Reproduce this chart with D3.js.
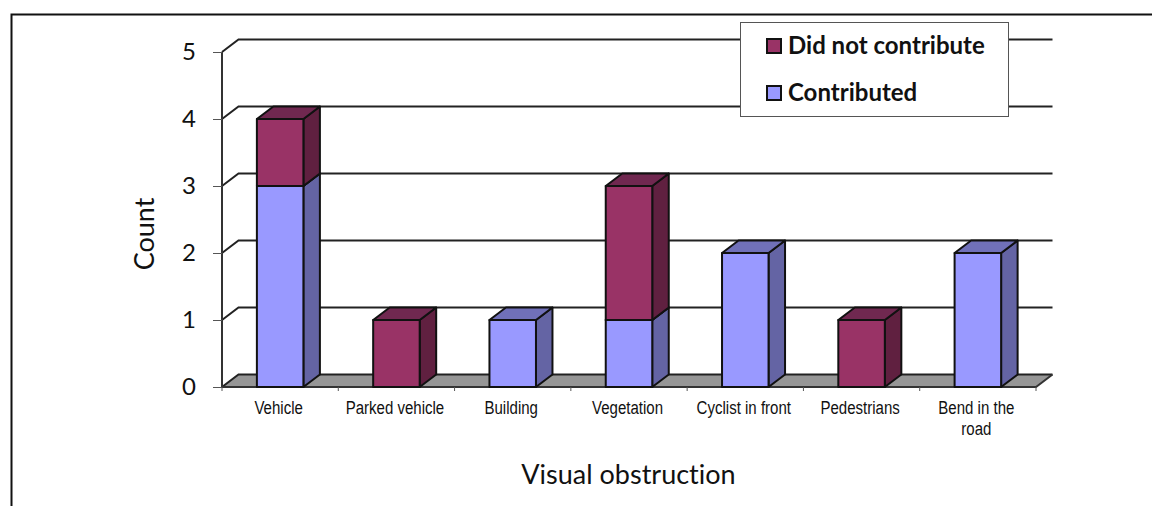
<!DOCTYPE html>
<html>
<head>
<meta charset="utf-8">
<script src="https://cdn.jsdelivr.net/npm/d3@7"></script>
<style>
  html, body { margin: 0; background: #fff; }
  svg { display: block; }
  text { fill: #111; font-variant-ligatures: none; }
</style>
</head>
<body>
<svg id="chart" width="1152" height="506"></svg>
<script>
const categories = ["Vehicle", "Parked vehicle", "Building", "Vegetation", "Cyclist in front", "Pedestrians", "Bend in the road"];
const contributed = [3, 0, 1, 1, 2, 0, 2];
const didNotContribute = [1, 1, 0, 2, 0, 1, 0];
const yTicks = [0, 1, 2, 3, 4, 5];
const seriesNames = ["Did not contribute", "Contributed"];

const svg = d3.select("#chart");
const titleFont = "Lato, 'Open Sans', sans-serif";
const labelFont = "'Liberation Sans', Arial, sans-serif";

const plotLeft = 222, plotRight = 1036, plotBottom = 387, plotTop = 52;
// depth of the fake 3d box
const dx = 16.5, dy = -12.5;

const x = d3.scaleBand().domain(categories).range([plotLeft, plotRight]).paddingInner(0.6).paddingOuter(0.3);
const band = d3.scaleBand().domain(categories).range([plotLeft, plotRight]);
const y = d3.scaleLinear().domain([0, 5]).range([plotBottom, plotTop]);

const colors = {
  blue: { front: "#9999ff", side: "#6464a4", top: "#7070b8" },
  wine: { front: "#993366", side: "#602040", top: "#702850" }
};

// frame around the figure
svg.append("path")
  .attr("d", `M11.5 506 V14.5 H1152`)
  .attr("fill", "none")
  .attr("stroke", "#111")
  .attr("stroke-width", 2);

// floor
svg.append("path")
  .attr("d", `M${plotLeft} ${plotBottom} L${plotLeft + dx} ${plotBottom + dy} H${plotRight + dx} L${plotRight} ${plotBottom} Z`)
  .attr("fill", "#969696")
  .attr("stroke", "none");

// back wall lines
svg.append("g").selectAll("path")
  .data(yTicks)
  .join("path")
  .attr("d", d => `M${plotLeft} ${y(d)} L${plotLeft + dx} ${y(d) + dy} H${plotRight + dx}`)
  .attr("fill", "none")
  .attr("stroke", "#222")
  .attr("stroke-width", 2);

// left wall + front floor edge
svg.append("path")
  .attr("d", `M${plotLeft} ${plotTop} V${plotBottom} H${plotRight} L${plotRight + dx} ${plotBottom + dy}`)
  .attr("fill", "none")
  .attr("stroke", "#333")
  .attr("stroke-width", 2);

// axes, only the ticks are kept
const yAxis = svg.append("g")
  .attr("transform", `translate(${plotLeft},0)`)
  .call(d3.axisLeft(y).tickValues(yTicks).tickSize(9).tickPadding(17).tickFormat(d3.format("d")));
yAxis.select(".domain").remove();
yAxis.selectAll("line").attr("stroke", "#555");
yAxis.selectAll("text")
  .attr("font-family", titleFont)
  .attr("font-size", 24)
  .attr("fill", "#111");

svg.append("g").selectAll("line")
  .data(d3.range(categories.length + 1))
  .join("line")
  .attr("x1", i => plotLeft + i * band.step())
  .attr("x2", i => plotLeft + i * band.step())
  .attr("y1", plotBottom)
  .attr("y2", plotBottom + 4)
  .attr("stroke", "#555");

// stacks, bottom to top
const stack = d3.stack().keys(["contributed", "wine"])(
  categories.map((c, i) => ({ cat: c, contributed: contributed[i], wine: didNotContribute[i] }))
);

const segments = [];
stack.forEach(s => {
  s.forEach(d => {
    if (d[1] > d[0]) segments.push({ cat: d.data.cat, y0: d[0], y1: d[1], col: s.key === "wine" ? colors.wine : colors.blue });
  });
});

const bars = svg.append("g").selectAll("g")
  .data(segments)
  .join("g")
  .attr("stroke", "#111")
  .attr("stroke-width", 2)
  .attr("stroke-linejoin", "round");

const bw = x.bandwidth();
bars.append("path")
  .attr("fill", d => d.col.side)
  .attr("d", d => {
    const xr = x(d.cat) + bw;
    return `M${xr} ${y(d.y0)} V${y(d.y1)} L${xr + dx} ${y(d.y1) + dy} V${y(d.y0) + dy} Z`;
  });
bars.append("path")
  .attr("fill", d => d.col.top)
  .attr("d", d => {
    const xl = x(d.cat);
    return `M${xl} ${y(d.y1)} L${xl + dx} ${y(d.y1) + dy} H${xl + bw + dx} L${xl + bw} ${y(d.y1)} Z`;
  });
bars.append("rect")
  .attr("fill", d => d.col.front)
  .attr("x", d => x(d.cat))
  .attr("y", d => y(d.y1))
  .attr("width", bw)
  .attr("height", d => y(d.y0) - y(d.y1));

// category labels, the original font is narrow so squeeze it a bit
const catWrap = { "Bend in the road": ["Bend in the", "road"] };
const catLabels = svg.append("g").selectAll("text")
  .data(categories)
  .join("text")
  .attr("transform", d => `translate(${band(d) + band.bandwidth() / 2 - 1.5},414) scale(0.835,1)`)
  .attr("text-anchor", "middle")
  .attr("font-family", labelFont)
  .attr("font-size", 18)
  .attr("fill", "#222");
catLabels.selectAll("tspan")
  .data(d => catWrap[d] || [d])
  .join("tspan")
  .attr("x", 0)
  .attr("dy", (d, i) => i ? 21.5 : 0)
  .text(d => d);

// axis titles
svg.append("text")
  .attr("x", 628.5)
  .attr("y", 484)
  .attr("text-anchor", "middle")
  .attr("font-family", titleFont)
  .attr("font-size", 27)
  .text("Visual obstruction");
svg.append("text")
  .attr("transform", "translate(154,234) rotate(-90)")
  .attr("text-anchor", "middle")
  .attr("font-family", titleFont)
  .attr("font-size", 27)
  .text("Count");

// legend
svg.append("rect")
  .attr("x", 740.5).attr("y", 22.5)
  .attr("width", 268).attr("height", 94)
  .attr("fill", "#fff")
  .attr("stroke", "#555");
const legendColors = [colors.wine.front, colors.blue.front];
const legend = svg.append("g").selectAll("g")
  .data(seriesNames)
  .join("g")
  .attr("transform", (d, i) => `translate(0,${46 + i * 47})`);
legend.append("rect")
  .attr("x", 767).attr("y", -7)
  .attr("width", 14).attr("height", 14)
  .attr("fill", (d, i) => legendColors[i])
  .attr("stroke", "#111")
  .attr("stroke-width", 2);
legend.append("text")
  .attr("x", 788).attr("y", 8)
  .attr("font-family", titleFont)
  .attr("font-weight", 700)
  .attr("font-size", 24)
  .text(d => d);
</script>
</body>
</html>
